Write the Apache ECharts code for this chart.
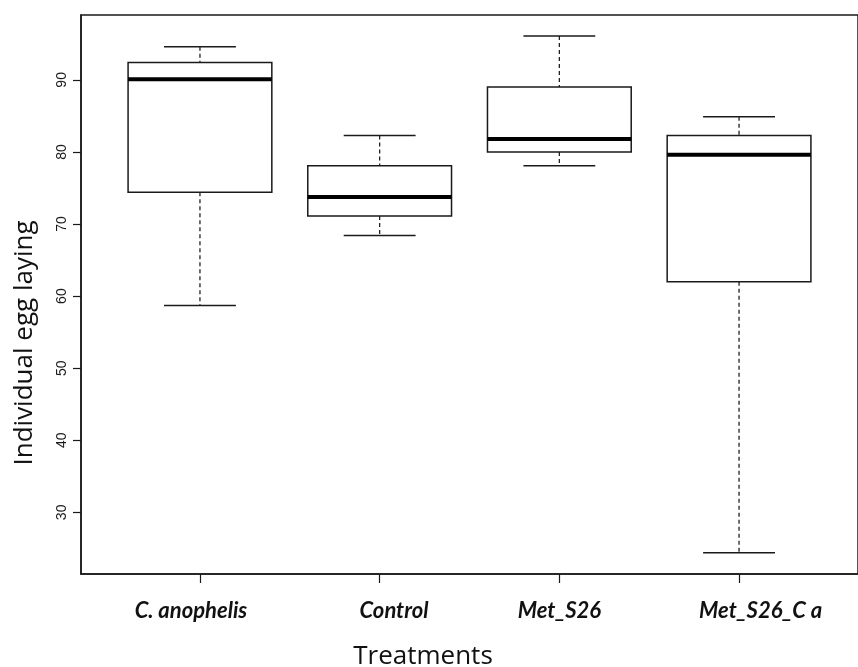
<!DOCTYPE html>
<html>
<head>
<meta charset="utf-8">
<script src="https://cdn.jsdelivr.net/npm/echarts@6/dist/echarts.min.js"></script>
<style>html,body{margin:0;padding:0;background:#fff;}#c{width:858px;height:667px;}</style>
</head>
<body>
<div id="c"></div>
<script>
// ---- data ----
var categories   = ['C. anophelis', 'Control', 'Met_S26', 'Met_S26_C a'];
var lowerWhisker = [58.7, 68.4, 78.1, 24.4];
var q1           = [74.4, 71.1, 80.0, 62.0];
var median       = [90.1, 73.75, 81.8, 79.6];
var q3           = [92.4, 78.1, 89.0, 82.3];
var upperWhisker = [94.6, 82.3, 96.1, 84.9];
var yTicks       = [30, 40, 50, 60, 70, 80, 90];
var xTitle = 'Treatments';
var yTitle = 'Individual egg laying';

// ---- layout constants ----
var labelShift = [-0.05, 0.08, 0.0, 0.12]; // label offsets (category units) as placed in the reference
var tickIdx = categories.map(function (c, i) { return i; });
var labelPos = tickIdx.map(function (i) { return i + labelShift[i]; });

var boxData = categories.map(function (c, i) {
  return [i, lowerWhisker[i], q1[i], median[i], q3[i], upperWhisker[i]];
});

var chart = echarts.init(document.getElementById('c'), null, {renderer: 'canvas'});
var ink = '#1a1a1a';

function renderBox(params, api) {
  var i = api.value(0);
  var lo = api.value(1), a = api.value(2), m = api.value(3), b = api.value(4), hi = api.value(5);
  var bw = 0.4, cw = 0.2;
  var pL = api.coord([i - bw, b]), pR = api.coord([i + bw, a]);
  var pc = function (v) { return api.coord([i, v]); };
  var capL = function (v) { return api.coord([i - cw, v]); };
  var capR = function (v) { return api.coord([i + cw, v]); };
  var mL = api.coord([i - bw, m]), mR = api.coord([i + bw, m]);
  var dash = {stroke: '#222', lineWidth: 1.3, lineDash: [4, 3]};
  var solid = {stroke: ink, lineWidth: 1.5};
  return {
    type: 'group',
    children: [
      {type: 'line', shape: {x1: pc(hi)[0], y1: pc(hi)[1], x2: pc(b)[0], y2: pc(b)[1]}, style: dash},
      {type: 'line', shape: {x1: pc(a)[0], y1: pc(a)[1], x2: pc(lo)[0], y2: pc(lo)[1]}, style: dash},
      {type: 'line', shape: {x1: capL(hi)[0], y1: capL(hi)[1], x2: capR(hi)[0], y2: capR(hi)[1]}, style: solid},
      {type: 'line', shape: {x1: capL(lo)[0], y1: capL(lo)[1], x2: capR(lo)[0], y2: capR(lo)[1]}, style: solid},
      {type: 'rect', shape: {x: pL[0], y: pL[1], width: pR[0] - pL[0], height: pR[1] - pL[1]},
        style: {fill: '#fff', stroke: ink, lineWidth: 1.5}},
      {type: 'line', shape: {x1: mL[0], y1: mL[1], x2: mR[0], y2: mR[1]}, style: {stroke: '#000', lineWidth: 4}}
    ]
  };
}

var option = {
  backgroundColor: '#fff',
  animation: false,
  grid: {left: 81, top: 15, right: -11, bottom: 93, show: true, borderColor: ink, borderWidth: 1.5, backgroundColor: 'transparent'},
  xAxis: {
    type: 'value', min: -0.662, max: 3.662,
    splitLine: {show: false},
    axisLine: {show: true, onZero: false, lineStyle: {color: ink, width: 1.5}},
    axisTick: {show: true, customValues: tickIdx, length: 9, lineStyle: {color: ink, width: 1.2}},
    axisLabel: {
      show: true, customValues: labelPos, margin: 26,
      fontFamily: 'Lato', fontWeight: 'bold', fontStyle: 'italic', fontSize: 22, color: '#111',
      formatter: function (v) {
        for (var k = 0; k < labelPos.length; k++) { if (Math.abs(labelPos[k] - v) < 1e-6) return categories[k]; }
        return '';
      }
    }
  },
  yAxis: {
    type: 'value', min: 21.45, max: 99.0,
    splitLine: {show: false},
    axisLine: {show: true, onZero: false, lineStyle: {color: ink, width: 1.5}},
    axisTick: {show: true, customValues: yTicks, length: 8, lineStyle: {color: ink, width: 1.2}},
    axisLabel: {
      show: true, customValues: yTicks, rotate: 90, margin: 12,
      fontFamily: 'Liberation Sans', fontSize: 14, color: '#1a1a1a'
    }
  },
  graphic: [
    {type: 'text', x: 25, y: 343, rotation: Math.PI / 2,
      style: {text: yTitle, fontFamily: 'Open Sans', fontSize: 26, fill: '#111', textAlign: 'center', textVerticalAlign: 'middle'}},
    {type: 'text', x: 423, y: 657,
      style: {text: xTitle, fontFamily: 'Open Sans', fontSize: 26, fill: '#111', textAlign: 'center', textVerticalAlign: 'middle'}}
  ],
  series: [{
    type: 'custom',
    renderItem: renderBox,
    encode: {x: 0, y: [1, 2, 3, 4, 5]},
    data: boxData
  }]
};
chart.setOption(option);
</script>
</body>
</html>
